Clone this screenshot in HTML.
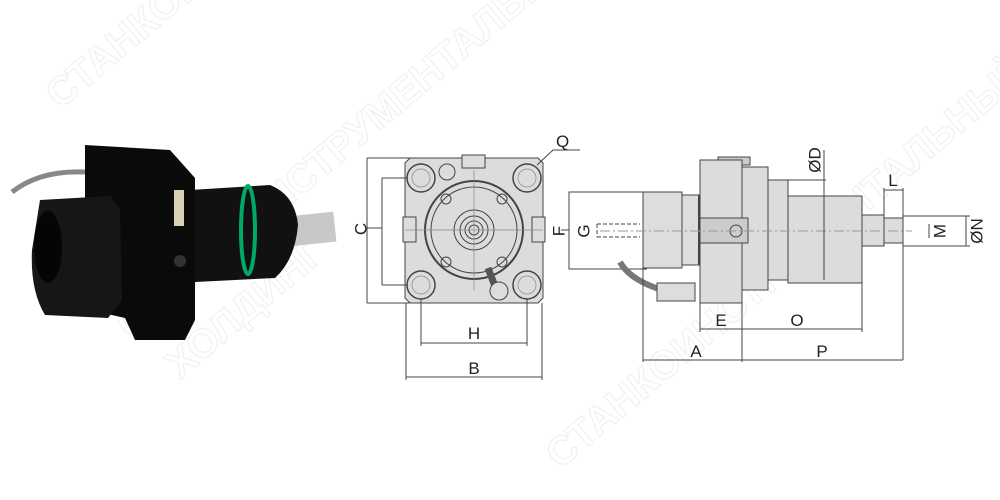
<!DOCTYPE html>
<html><head><meta charset="utf-8"><style>
html,body{margin:0;padding:0;background:#fff;width:1000px;height:500px;overflow:hidden}
svg{display:block;overflow:hidden}
svg text{font-family:"Liberation Sans",sans-serif}
</style></head><body>
<svg width="1000" height="500" viewBox="0 0 1000 500" xmlns="http://www.w3.org/2000/svg">
<!-- watermark -->
<g fill="none" stroke="#eeeeee" stroke-width="1" font-size="40" font-weight="bold">
<text x="60" y="110" transform="rotate(-40 60 110)">СТАНКОИНСТРУМЕНТАЛЬНЫЙ</text>
<text x="130" y="340" transform="rotate(-40 130 340)">СТАНКОИНСТРУМЕНТАЛЬНЫЙ</text>
<text x="180" y="380" transform="rotate(-40 180 380)">ХОЛДИНГ</text>
<text x="560" y="470" transform="rotate(-40 560 470)">СТАНКОИНСТРУМЕНТАЛЬНЫЙ</text>
</g>
<!-- photo -->
<g>
<path d="M12,192 Q40,170 85,172" stroke="#888" stroke-width="5" fill="none"/>
<rect x="290" y="214" width="45" height="30" fill="#c8c8c8" transform="rotate(-6 312 229)"/>
<path d="M190,190 L270,185 Q295,195 298,225 Q295,260 275,278 L195,282Z" fill="#111"/>
<ellipse cx="248" cy="230" rx="7" ry="44" fill="none" stroke="#0a6" stroke-width="4"/>
<path d="M85,145 L170,150 L195,178 L195,320 L185,340 L135,340 L125,318 L90,310 L85,250Z" fill="#0a0a0a"/>
<rect x="174" y="190" width="10" height="36" fill="#d8d0b0"/>
<path d="M40,200 L110,196 L120,210 L122,300 L108,318 L45,315 Q30,290 32,250Z" fill="#161616"/>
<ellipse cx="48" cy="247" rx="14" ry="36" fill="#050505"/>
<circle cx="180" cy="261" r="6" fill="#333"/>
</g>
<!-- middle view -->
<g stroke="#444" stroke-width="1" fill="none">
<path d="M410,158 L538,158 L543,163 L543,298 L538,303 L410,303 L405,298 L405,163Z" fill="#dcdcdc"/>
<rect x="462" y="155" width="23" height="13" fill="#ddd"/>
<rect x="403" y="217" width="13" height="25" fill="#ddd"/>
<rect x="532" y="217" width="13" height="25" fill="#ddd"/>
<circle cx="474" cy="230" r="49" stroke-width="2"/>
<circle cx="474" cy="230" r="43"/>
<circle cx="474" cy="230" r="20"/><circle cx="474" cy="230" r="14"/><circle cx="474" cy="230" r="9"/><circle cx="474" cy="230" r="5"/>
<circle cx="446" cy="199" r="5"/><circle cx="502" cy="199" r="5"/><circle cx="446" cy="262" r="5"/><circle cx="502" cy="262" r="5"/>
<circle cx="447" cy="172" r="8"/>
<g stroke-width="1.5"><circle cx="421" cy="178" r="14"/><circle cx="527" cy="178" r="14"/><circle cx="421" cy="285" r="14"/><circle cx="527" cy="285" r="14"/></g>
<g stroke="#888" stroke-width="0.7"><circle cx="421" cy="178" r="9"/><circle cx="527" cy="178" r="9"/><circle cx="421" cy="285" r="9"/><circle cx="527" cy="285" r="9"/>
<line x1="405" y1="230" x2="543" y2="230"/><line x1="474" y1="170" x2="474" y2="290"/></g>
<path d="M488,268 L498,294" stroke-width="7" stroke="#555"/>
<circle cx="499" cy="291" r="9" fill="#ddd"/>
<line x1="367" y1="158" x2="367" y2="303"/><line x1="367" y1="158" x2="410" y2="158"/><line x1="367" y1="303" x2="410" y2="303"/>
<line x1="382" y1="178" x2="382" y2="285"/><line x1="382" y1="178" x2="407" y2="178"/><line x1="382" y1="285" x2="407" y2="285"/>
<line x1="367" y1="228" x2="382" y2="228"/>
<line x1="421" y1="299" x2="421" y2="346"/><line x1="527" y1="299" x2="527" y2="346"/><line x1="421" y1="343" x2="527" y2="343"/>
<line x1="406" y1="303" x2="406" y2="380"/><line x1="542" y1="303" x2="542" y2="380"/><line x1="406" y1="377" x2="542" y2="377"/>
<polyline points="537,165 553,150 580,150"/>
</g>
<g font-size="17" fill="#222">
<text x="362" y="229" transform="rotate(-90 362 229)" text-anchor="middle" dominant-baseline="middle">C</text>
<text x="474" y="339" text-anchor="middle">H</text>
<text x="474" y="374" text-anchor="middle">B</text>
<text x="556" y="147">Q</text>
</g>
<!-- right view -->
<g stroke="#444" stroke-width="1" fill="none">
<polyline points="647,192 569,192 569,269 647,269"/>
<line x1="561" y1="230" x2="569" y2="230"/>
<path d="M597,224 L640,224 M597,237 L640,237 M597,224 L597,237" stroke-dasharray="4 2"/>
<path d="M620,262 Q630,280 662,290" stroke-width="6" stroke="#777"/>
<rect x="657" y="283" width="38" height="18" fill="#ddd"/>
<rect x="643" y="192" width="39" height="76" fill="#ddd"/>
<rect x="682" y="195" width="17" height="70" fill="#ddd"/>
<rect x="718" y="157" width="32" height="8" fill="#ccc"/>
<rect x="700" y="160" width="42" height="143" fill="#dcdcdc"/>
<line x1="699" y1="195" x2="699" y2="265" stroke-width="2"/>
<rect x="742" y="167" width="26" height="123" fill="#dcdcdc"/>
<rect x="768" y="180" width="20" height="100" fill="#dcdcdc"/>
<rect x="788" y="196" width="74" height="87" fill="#dcdcdc"/>
<rect x="700" y="218" width="48" height="25" fill="#ccc"/>
<circle cx="736" cy="231" r="6"/>
<rect x="862" y="215" width="22" height="31" fill="#dcdcdc"/>
<rect x="884" y="218" width="19" height="25" fill="#dcdcdc"/>
<line x1="600" y1="231" x2="912" y2="231" stroke="#999" stroke-dasharray="10 3 2 3"/>
<line x1="824" y1="150" x2="824" y2="280"/><line x1="788" y1="180" x2="826" y2="180"/>
<line x1="884" y1="188" x2="884" y2="215"/><line x1="903" y1="188" x2="903" y2="360"/><line x1="884" y1="190" x2="903" y2="190"/>
<line x1="903" y1="216" x2="970" y2="216"/><line x1="903" y1="246" x2="970" y2="246"/><line x1="966" y1="216" x2="966" y2="246"/>
<line x1="929" y1="224" x2="929" y2="238"/>
<line x1="700" y1="303" x2="700" y2="332"/><line x1="742" y1="290" x2="742" y2="362"/><line x1="862" y1="283" x2="862" y2="332"/>
<line x1="700" y1="329" x2="862" y2="329"/>
<line x1="643" y1="268" x2="643" y2="362"/><line x1="643" y1="360" x2="903" y2="360"/>
</g>
<g font-size="17" fill="#222">
<text x="560" y="231" transform="rotate(-90 560 231)" text-anchor="middle" dominant-baseline="middle">F</text>
<text x="585" y="231" transform="rotate(-90 585 231)" text-anchor="middle" dominant-baseline="middle">G</text>
<text x="816" y="160" transform="rotate(-90 816 160)" text-anchor="middle" dominant-baseline="middle">ØD</text>
<text x="893" y="186" text-anchor="middle">L</text>
<text x="941" y="231" transform="rotate(-90 941 231)" text-anchor="middle" dominant-baseline="middle">M</text>
<text x="978" y="231" transform="rotate(-90 978 231)" text-anchor="middle" dominant-baseline="middle">ØN</text>
<text x="721" y="326" text-anchor="middle">E</text>
<text x="797" y="326" text-anchor="middle">O</text>
<text x="696" y="357" text-anchor="middle">A</text>
<text x="822" y="357" text-anchor="middle">P</text>
</g>
</svg>
</body></html>
